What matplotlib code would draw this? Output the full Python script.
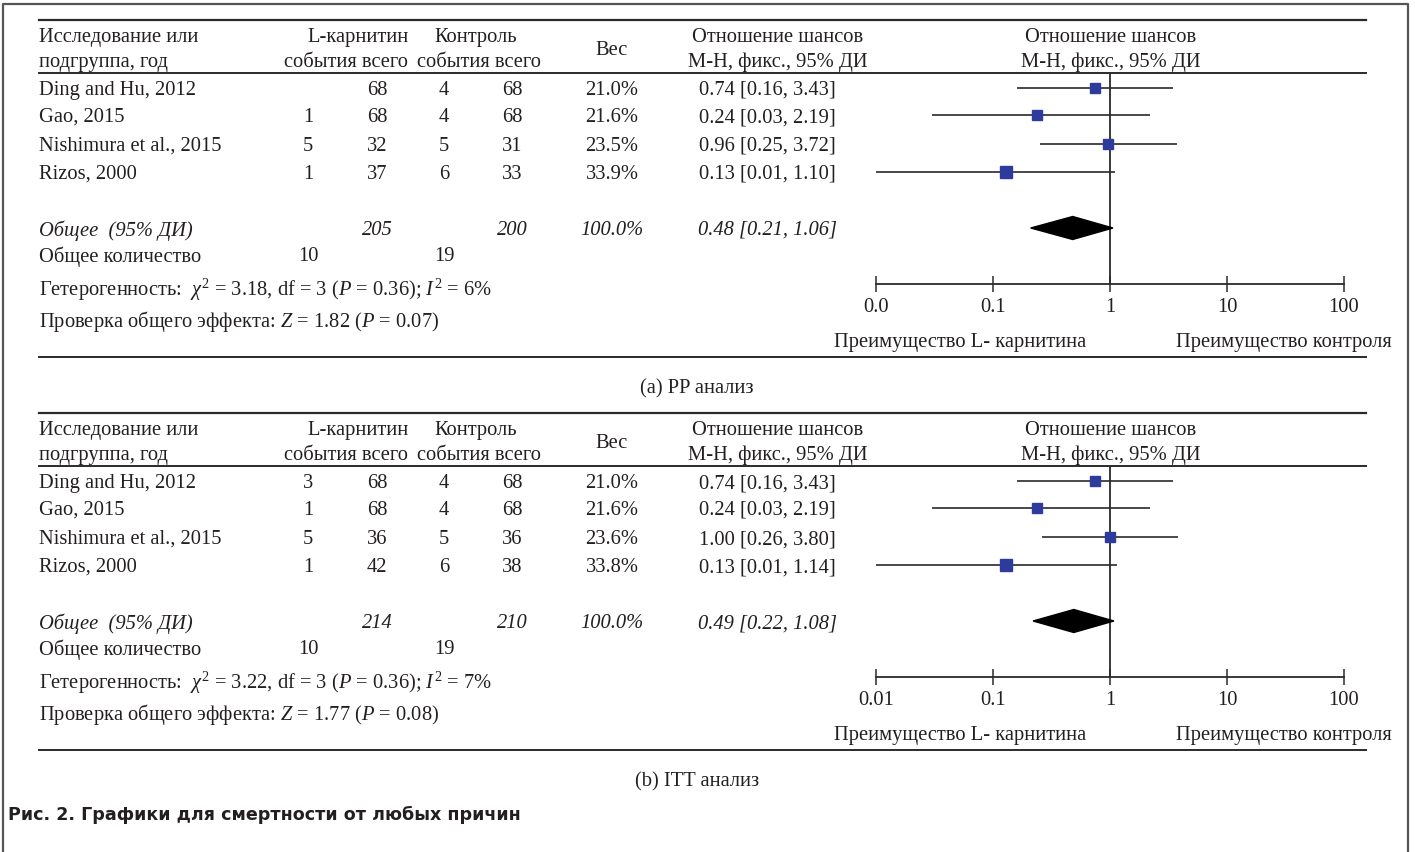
import matplotlib
matplotlib.use("Agg")
import matplotlib.pyplot as plt

plt.rcParams['font.family'] = ['Liberation Serif', 'DejaVu Serif']
plt.rcParams['mathtext.fontset'] = 'custom'
plt.rcParams['mathtext.rm'] = 'Liberation Serif'
plt.rcParams['mathtext.it'] = 'Liberation Serif:italic'

# ── data ───────────────────────────────────────
studies = ["Ding and Hu, 2012", "Gao, 2015", "Nishimura et al., 2015", "Rizos, 2000"]

# (a) PP analysis
pp_ev_l = ["", "1", "5", "1"]          # first value is missing in the source
pp_tot_l = [68, 68, 32, 37]
pp_ev_c = [4, 4, 5, 6]
pp_tot_c = [68, 68, 31, 33]
pp_weight = [21.0, 21.6, 23.5, 33.9]
pp_or = [0.74, 0.24, 0.96, 0.13]
pp_lo = [0.16, 0.03, 0.25, 0.01]
pp_hi = [3.43, 2.19, 3.72, 1.10]
pp_total = [205, 200]
pp_events = [10, 19]
pp_pooled = [0.48, 0.21, 1.06]
pp_het = [3.18, 3, 0.36, 6]            # chi2, df, P, I2
pp_test = [1.82, 0.07]                 # Z, P
pp_ticklabels = ["0.0", "0.1", "1", "10", "100"]

# (b) ITT analysis
itt_ev_l = ["3", "1", "5", "1"]
itt_tot_l = [68, 68, 36, 42]
itt_ev_c = [4, 4, 5, 6]
itt_tot_c = [68, 68, 36, 38]
itt_weight = [21.0, 21.6, 23.6, 33.8]
itt_or = [0.74, 0.24, 1.00, 0.13]
itt_lo = [0.16, 0.03, 0.26, 0.01]
itt_hi = [3.43, 2.19, 3.80, 1.14]
itt_total = [214, 210]
itt_events = [10, 19]
itt_pooled = [0.49, 0.22, 1.08]
itt_het = [3.22, 3, 0.36, 7]
itt_test = [1.77, 0.08]
itt_ticklabels = ["0.01", "0.1", "1", "10", "100"]

ticks = [0.01, 0.1, 1, 10, 100]

# ── layout (pixels) ────────────────────────────
W, H = 1415, 852
FS = 14.8
TXT = '#231F20'
BLUE = '#2E3A9C'
LINE = '#2a2a2a'

fig = plt.figure(figsize=(W / 100, H / 100), dpi=100)
bg = fig.add_axes([0, 0, 1, 1])
bg.set_xlim(0, W)
bg.set_ylim(H, 0)
bg.axis('off')

# outer frame
bg.plot([3, 3, 1408, 1408], [H + 5, 4, 4, H + 5], color='#555555', lw=1.6)

col_name = 39
col_evl, col_totl, col_evc, col_totc = 308, 377, 444, 512
col_w, col_or = 612, 767
x0, x1 = 876, 1344       # pixel span of 0.01 .. 100
line_l, line_r = 39, 1366


def t(x, y, s, ha='center', style='normal'):
    bg.text(x, y, s, ha=ha, va='center_baseline', fontsize=FS, color=TXT,
            style=style)


def panel(off, ev_l, tot_l, ev_c, tot_c, weight, odds, lo, hi, total, events,
          pooled, het, test, ticklabels, label):
    # rules
    bg.plot([line_l, line_r], [20 + off, 20 + off], color=LINE, lw=1.6)
    bg.plot([line_l, line_r], [73 + off, 73 + off], color=LINE, lw=1.4)
    bg.plot([line_l, line_r], [357 + off, 357 + off], color=LINE, lw=1.4)

    # header
    t(col_name, 35 + off, "Исследование или", ha='left')
    t(col_name, 60 + off, "подгруппа, год", ha='left')
    t(358, 35 + off, "L-карнитин")
    t(476, 35 + off, "Контроль")
    t(346, 60 + off, "события всего")
    t(479, 60 + off, "события всего")
    t(col_w, 48 + off, "Вес")
    t(778, 35 + off, "Отношение шансов")
    t(778, 60 + off, "М-Н, фикс., 95% ДИ")
    t(1111, 35 + off, "Отношение шансов")
    t(1111, 60 + off, "М-Н, фикс., 95% ДИ")

    rows_y = [88 + off, 115 + off, 144 + off, 172 + off]
    for i, y in enumerate(rows_y):
        t(col_name, y, studies[i], ha='left')
        t(col_evl, y, ev_l[i])
        t(col_totl, y, str(tot_l[i]))
        t(col_evc, y, str(ev_c[i]))
        t(col_totc, y, str(tot_c[i]))
        t(col_w, y, f"{weight[i]:.1f}%")
        t(col_or, y, f"{odds[i]:.2f} [{lo[i]:.2f}, {hi[i]:.2f}]")

    ys = 228 + off
    t(col_name, ys, "Общее  (95% ДИ)", ha='left', style='italic')
    t(col_totl, ys, str(total[0]), style='italic')
    t(col_totc, ys, str(total[1]), style='italic')
    t(col_w, ys, "100.0%", style='italic')
    t(col_or, ys, f"{pooled[0]:.2f} [{pooled[1]:.2f}, {pooled[2]:.2f}]",
      style='italic')
    t(col_name, 254 + off, "Общее количество", ha='left')
    t(col_evl, 254 + off, str(events[0]))
    t(col_evc, 254 + off, str(events[1]))
    t(col_name, 286 + off,
      f"Гетерогенность:  $\\chi^2$ = {het[0]:.2f}, df = {het[1]} "
      f"($P$ = {het[2]:.2f}); $I^2$ = {het[3]}%", ha='left')
    t(col_name, 318 + off,
      f"Проверка общего эффекта: $Z$ = {test[0]:.2f} ($P$ = {test[1]:.2f})",
      ha='left')

    t(697, 386 + off, label)

    # forest axes
    ax_top, ax_bot = 73 + off, 284 + off
    ax = fig.add_axes([x0 / W, 1 - ax_bot / H, (x1 - x0) / W,
                       (ax_bot - ax_top) / H])
    ax.set_xscale('log')
    ax.set_xlim(0.01, 100)
    ax.set_ylim(ax_bot, ax_top)
    ax.patch.set_alpha(0)
    for s in ['top', 'left', 'right']:
        ax.spines[s].set_visible(False)
    ax.spines['bottom'].set_color(LINE)
    ax.spines['bottom'].set_linewidth(1.3)
    ax.set_yticks([])
    ax.set_xticks(ticks)
    ax.set_xticklabels(ticklabels)
    ax.minorticks_off()
    ax.tick_params(axis='x', direction='inout', length=11.5, width=1.1,
                   color=LINE, pad=4.5, labelsize=FS, labelcolor=TXT)
    ax.axvline(1, color=LINE, lw=1.3)

    for i, y in enumerate(rows_y):
        ax.hlines(y, lo[i], hi[i], color=LINE, lw=1.2, clip_on=False)
        ax.plot(odds[i], y, 's', color=BLUE, ms=1.55 * weight[i] ** 0.5,
                clip_on=False, zorder=3)

    h = 11.5
    ax.fill([pooled[1], pooled[0], pooled[2], pooled[0]],
            [ys, ys - h, ys, ys + h], color='black', zorder=3, clip_on=False)

    t(960, 340 + off, "Преимущество L- карнитина")
    t(1392, 340 + off, "Преимущество контроля", ha='right')


panel(0, pp_ev_l, pp_tot_l, pp_ev_c, pp_tot_c, pp_weight, pp_or, pp_lo,
      pp_hi, pp_total, pp_events, pp_pooled, pp_het, pp_test, pp_ticklabels,
      "(a) PP анализ")
panel(393, itt_ev_l, itt_tot_l, itt_ev_c, itt_tot_c, itt_weight, itt_or,
      itt_lo, itt_hi, itt_total, itt_events, itt_pooled, itt_het, itt_test,
      itt_ticklabels, "(b) ITT анализ")

bg.text(8, 813, "Рис. 2. Графики для смертности от любых причин", ha='left',
        va='center_baseline', fontsize=12.6, color=TXT, fontweight='bold',
        family=['DejaVu Sans'])

fig.savefig("out.png", dpi=100)
